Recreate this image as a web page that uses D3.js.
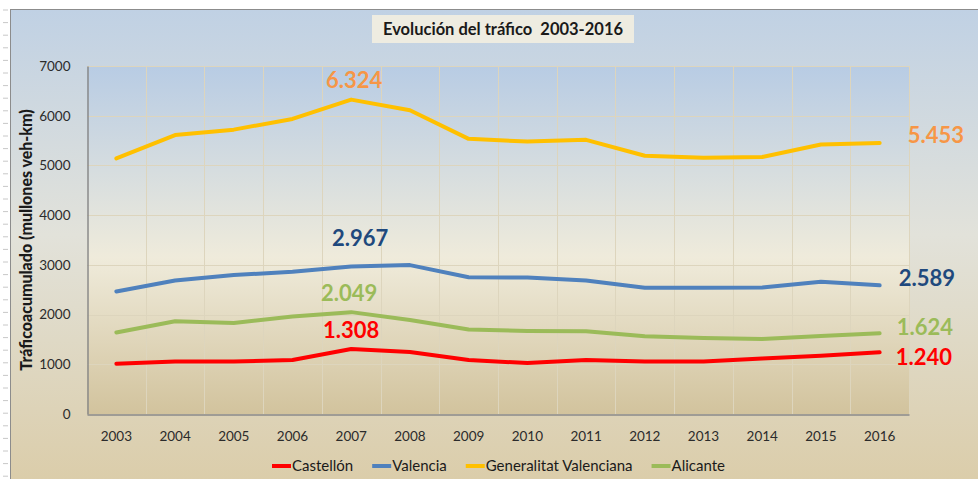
<!DOCTYPE html>
<html>
<head>
<meta charset="utf-8">
<script src="https://cdn.jsdelivr.net/npm/d3@7"></script>
<style>
  body { margin: 0; background: #fff; }
  svg text { font-family: Lato, "Open Sans", sans-serif; }
</style>
</head>
<body>
<div id="chart"></div>
<script>
// chart data
let years = [2003, 2004, 2005, 2006, 2007, 2008, 2009, 2010, 2011, 2012, 2013, 2014, 2015, 2016];
let castellon = [1010, 1055, 1055, 1085, 1308, 1245, 1085, 1025, 1085, 1055, 1055, 1115, 1170, 1240];
let valencia = [2465, 2685, 2795, 2860, 2967, 2995, 2750, 2745, 2685, 2540, 2540, 2545, 2660, 2589];
let generalitat = [5140, 5610, 5720, 5935, 6324, 6110, 5535, 5480, 5515, 5195, 5155, 5170, 5420, 5453];
let alicante = [1640, 1865, 1830, 1960, 2049, 1890, 1700, 1670, 1665, 1565, 1530, 1510, 1570, 1624];
let seriesNames = ["Castellón", "Valencia", "Generalitat Valenciana", "Alicante"];
let yTicks = [0, 1000, 2000, 3000, 4000, 5000, 6000, 7000];

var w = 978,
  h = 479,
  plotLeft = 87,
  plotRight = 909,
  plotTop = 66,
  plotBottom = 414;

let seriesValues = [castellon, valencia, generalitat, alicante];
let lineColors = ["#ff0000", "#4f81bd", "#ffc000", "#9bbb59"];
let labelColors = ["#ff0000", "#1f497d", "#f79646", "#9bbb59"];
// pixel offsets for the value labels [dx, dy] at 2007 and 2016
let peakOffsets = [[0, -11], [9, -20], [3, -12], [-2, -11]];
let endOffsets = [[16, 13], [19, 1], [28, 0], [17, 2]];

let svg = d3.select("#chart").append("svg").attr("width", w).attr("height", h);

let defs = svg.append("defs");
let bg = defs.append("linearGradient").attr("id", "bg").attr("x1", 0).attr("y1", 0).attr("x2", 0).attr("y2", 1);
bg.append("stop").attr("offset", "0%").attr("stop-color", "#c0d1e4");
bg.append("stop").attr("offset", "48%").attr("stop-color", "#e2e2da");
bg.append("stop").attr("offset", "100%").attr("stop-color", "#dbcdaa");
let pg = defs.append("linearGradient").attr("id", "pg").attr("x1", 0).attr("y1", 0).attr("x2", 0).attr("y2", 1);
pg.append("stop").attr("offset", "0%").attr("stop-color", "#b8cce4");
pg.append("stop").attr("offset", "55%").attr("stop-color", "#efebdb");
pg.append("stop").attr("offset", "100%").attr("stop-color", "#d2c39d");

// spreadsheet strip on the left
svg.append("g")
  .selectAll("line")
  .data(d3.range(10, h, 12.6))
  .enter()
  .append("line")
  .attr("x1", 3).attr("x2", 8)
  .attr("y1", (d) => d).attr("y2", (d) => d)
  .attr("stroke", "#c8c8c8");

svg.append("rect")
  .attr("x", 10.5).attr("y", 9.5)
  .attr("width", w - 10).attr("height", h - 9)
  .attr("fill", "url(#bg)")
  .attr("stroke", "#8c8c8c");

let x = d3.scaleBand().domain(years).range([plotLeft, plotRight]).padding(0);
let y = d3.scaleLinear().domain([0, 7000]).range([plotBottom, plotTop]);

svg.append("rect")
  .attr("x", plotLeft).attr("y", plotTop)
  .attr("width", plotRight - plotLeft).attr("height", plotBottom - plotTop)
  .attr("fill", "url(#pg)");

// grid
let grid = svg.append("g").attr("stroke", "#ddd5bd").attr("stroke-width", 1);
grid.selectAll(".hg").data(yTicks.slice(1)).enter().append("line")
  .attr("x1", plotLeft).attr("x2", plotRight)
  .attr("y1", (d) => Math.round(y(d)) + 0.5).attr("y2", (d) => Math.round(y(d)) + 0.5);
grid.selectAll(".vg").data(years).enter().append("line")
  .attr("x1", (d) => Math.round(x(d) + x.bandwidth()) + 0.5)
  .attr("x2", (d) => Math.round(x(d) + x.bandwidth()) + 0.5)
  .attr("y1", plotTop).attr("y2", plotBottom);

// axes
let yAxis = svg.append("g")
  .attr("transform", "translate(" + (plotLeft + 0.5) + ",0)")
  .call(d3.axisLeft(y).tickValues(yTicks).tickFormat(d3.format("d")).tickSize(0).tickPadding(17));
yAxis.select(".domain").attr("stroke", "#8a8a8a").attr("stroke-width", 1.5);
yAxis.selectAll("text").attr("font-size", 13.5).attr("fill", "#2b2b2b").attr("font-family", "Lato");

let xAxis = svg.append("g")
  .attr("transform", "translate(0," + (plotBottom + 0.5) + ")")
  .call(d3.axisBottom(x).tickSize(0).tickPadding(17));
xAxis.select(".domain").attr("stroke", "#8a8a8a").attr("stroke-width", 1.5);
xAxis.selectAll("text").attr("font-size", 13.5).attr("fill", "#2b2b2b").attr("font-family", "Lato");

// lines
let line = d3.line()
  .x((d, i) => x(years[i]) + x.bandwidth() / 2)
  .y((d) => y(d));

svg.append("g")
  .selectAll("path")
  .data(seriesValues)
  .enter()
  .append("path")
  .attr("d", (d) => line(d))
  .attr("fill", "none")
  .attr("stroke", (d, i) => lineColors[i])
  .attr("stroke-width", 4)
  .attr("stroke-linejoin", "round")
  .attr("stroke-linecap", "round");

// value labels
let fmt = (v) => d3.format(",")(v).replace(",", ".");
let peakIdx = years.indexOf(2007),
  endIdx = years.length - 1;

svg.append("g")
  .selectAll("text")
  .data(seriesValues)
  .enter()
  .append("text")
  .attr("x", (d, i) => x(years[peakIdx]) + x.bandwidth() / 2 + peakOffsets[i][0])
  .attr("y", (d, i) => y(d[peakIdx]) + peakOffsets[i][1])
  .attr("text-anchor", "middle")
  .attr("font-size", 22)
  .attr("font-weight", "bold")
  .attr("fill", (d, i) => labelColors[i])
  .text((d) => fmt(d[peakIdx]));

svg.append("g")
  .selectAll("text")
  .data(seriesValues)
  .enter()
  .append("text")
  .attr("x", (d, i) => x(years[endIdx]) + x.bandwidth() / 2 + endOffsets[i][0])
  .attr("y", (d, i) => y(d[endIdx]) + endOffsets[i][1])
  .attr("font-size", 22)
  .attr("font-weight", "bold")
  .attr("fill", (d, i) => labelColors[i])
  .text((d) => fmt(d[endIdx]));

// title
let titleG = svg.append("g");
titleG.append("rect")
  .attr("x", 372).attr("y", 15).attr("width", 262).attr("height", 28)
  .attr("fill", "#eeece1");
titleG.append("text")
  .attr("x", 503).attr("y", 35)
  .attr("text-anchor", "middle")
  .attr("font-size", 16.5)
  .attr("font-weight", "bold")
  .attr("fill", "#1a1a1a")
  .style("white-space", "pre")
  .text("Evolución del tráfico  2003-2016");

// y axis title
svg.append("text")
  .attr("transform", "translate(32,240) rotate(-90)")
  .attr("text-anchor", "middle")
  .attr("font-size", 16)
  .attr("font-weight", "900")
  .attr("fill", "#1a1a1a")
  .text("Tráficoacumulado (mullones veh-km)");

// legend
let legend = svg.append("g").attr("transform", "translate(0,466)");
let lx = 272;
seriesNames.forEach((name, i) => {
  legend.append("line")
    .attr("x1", lx).attr("x2", lx + 19)
    .attr("y1", 0).attr("y2", 0)
    .attr("stroke", lineColors[i])
    .attr("stroke-width", 4);
  let t = legend.append("text")
    .attr("x", lx + 20).attr("y", 5)
    .attr("font-size", 15)
    .attr("fill", "#1a1a1a")
    .text(name);
  lx += 20 + t.node().getComputedTextLength() + 19;
});
</script>
</body>
</html>
